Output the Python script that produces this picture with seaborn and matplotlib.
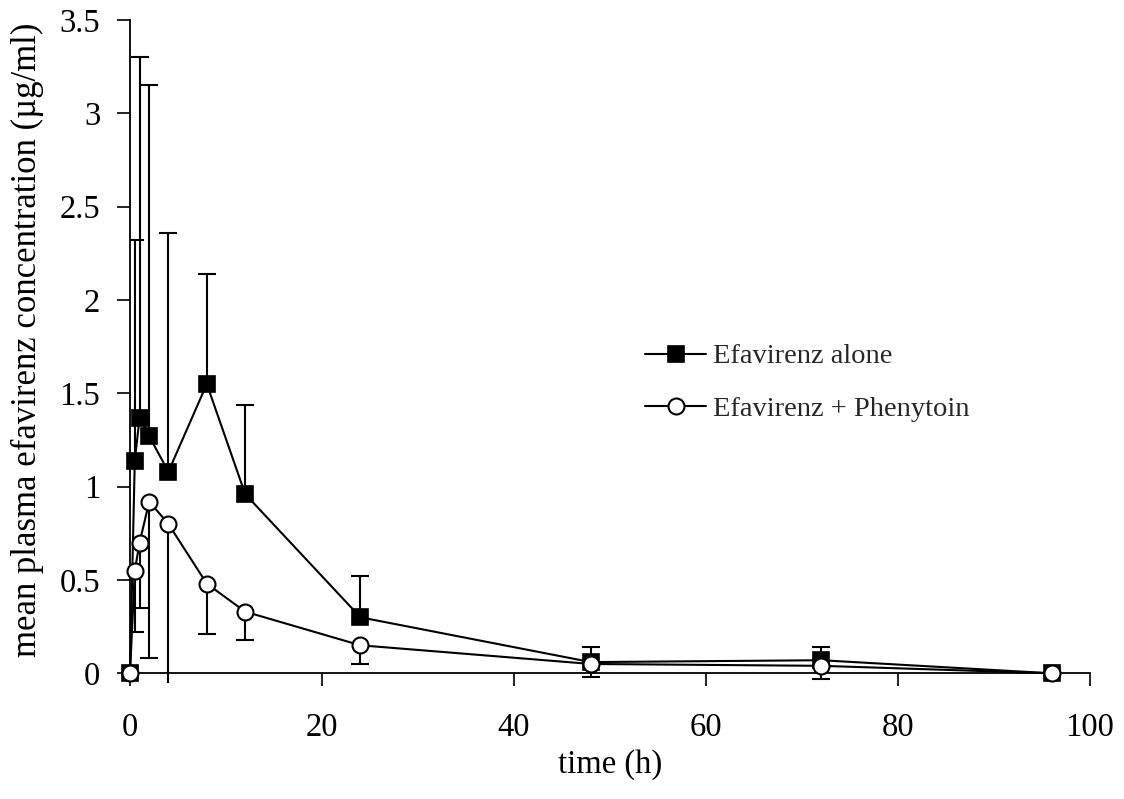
import numpy as np
import pandas as pd
import matplotlib
matplotlib.use("Agg")
import matplotlib.pyplot as plt
import seaborn as sns

# Sampling times (h)
time_h = [0, 0.5, 1, 2, 4, 8, 12, 24, 48, 72, 96]

# Efavirenz alone: mean concentration and SD (µg/ml)
alone_mean = [0, 1.14, 1.37, 1.27, 1.08, 1.55, 0.96, 0.30, 0.06, 0.07, 0]
alone_sd = [0, 1.18, 1.93, 1.88, 1.28, 0.59, 0.48, 0.22, 0.08, 0.07, 0]

# Efavirenz + Phenytoin: mean concentration and SD (µg/ml)
pheny_mean = [0, 0.55, 0.70, 0.92, 0.80, 0.48, 0.33, 0.15, 0.05, 0.04, 0]
pheny_sd = [0, 0.33, 0.35, 0.84, 0.89, 0.27, 0.15, 0.10, 0.07, 0.07, 0]

series_labels = ["Efavirenz alone", "Efavirenz + Phenytoin"]
x_ticks = [0, 20, 40, 60, 80, 100]
y_ticks = [0, 0.5, 1, 1.5, 2, 2.5, 3, 3.5]
y_tick_labels = ["0", "0.5", "1", "1.5", "2", "2.5", "3", "3.5"]

sns.set_theme(style="white")
plt.rcParams["font.family"] = ["Liberation Serif", "DejaVu Serif"]

fig = plt.figure(figsize=(11.24, 7.99), dpi=100)
ax = fig.add_axes([130 / 1124, 1 - 683 / 799, 960 / 1124, 663 / 799])

df_alone = pd.DataFrame({"time": time_h, "conc": alone_mean, "sd": alone_sd})
df_pheny = pd.DataFrame({"time": time_h, "conc": pheny_mean, "sd": pheny_sd})

lw = 1.5
cap_ms = 13.5

# One-sided error bars: upward for Efavirenz alone
up = df_alone[df_alone["sd"] > 0]
ax.vlines(up["time"], up["conc"], up["conc"] + up["sd"], color="black", lw=lw, zorder=1)
ax.plot(up["time"], up["conc"] + up["sd"], ls="none", marker="_", ms=cap_ms,
        mew=lw, color="black", zorder=1)

# One-sided error bars: downward for Efavirenz + Phenytoin
dn = df_pheny[df_pheny["sd"] > 0]
ax.vlines(dn["time"], dn["conc"] - dn["sd"], dn["conc"], color="black", lw=lw, zorder=1)
ax.plot(dn["time"], dn["conc"] - dn["sd"], ls="none", marker="_", ms=cap_ms,
        mew=lw, color="black", zorder=1)

sns.lineplot(data=df_alone, x="time", y="conc", ax=ax, color="black", lw=lw,
             marker="s", markersize=12, markerfacecolor="black",
             markeredgecolor="black", markeredgewidth=1.2,
             label=series_labels[0], clip_on=False, zorder=3)
sns.lineplot(data=df_pheny, x="time", y="conc", ax=ax, color="black", lw=lw,
             marker="o", markersize=11.5, markerfacecolor="white",
             markeredgecolor="black", markeredgewidth=1.5,
             label=series_labels[1], clip_on=False, zorder=4)

ax.set_xlim(0, 100)
ax.set_ylim(-0.052, 3.5)

for side in ["top", "right"]:
    ax.spines[side].set_visible(False)
ax.spines["bottom"].set_position(("data", 0))
ax.spines["left"].set_bounds(0, 3.5)
for side in ["left", "bottom"]:
    ax.spines[side].set_color("black")
    ax.spines[side].set_linewidth(1.3)

ax.set_xticks(x_ticks)
ax.set_yticks(y_ticks)
ax.set_yticklabels(y_tick_labels)
ax.tick_params(axis="both", direction="out", length=9.5, width=1.2, color="black",
               labelsize=23.5, labelcolor="black", left=True, bottom=True)
ax.tick_params(axis="y", pad=12)
ax.tick_params(axis="x", pad=19)

ax.set_xlabel("time (h)", fontsize=23.5, color="black", labelpad=4)
ax.set_ylabel("mean plasma efavirenz concentration (µg/ml)", fontsize=25,
              color="black")
ax.yaxis.set_label_coords(-0.09, 0.518)

ax.legend(loc="center left", bbox_to_anchor=(645 / 1124, 1 - 383 / 799),
          bbox_transform=fig.transFigure, frameon=False, fontsize=20.5,
          handlelength=2.15, handletextpad=0.25, labelspacing=0.95,
          borderpad=0, borderaxespad=0)

ax.grid(False)
fig.savefig("out.png", dpi=100, facecolor="white")
